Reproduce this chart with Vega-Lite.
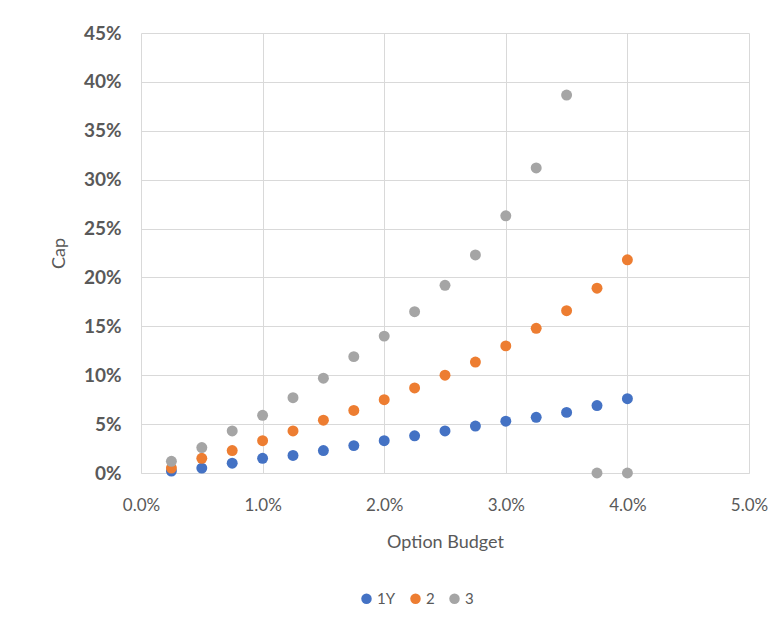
{
  "$schema": "https://vega.github.io/schema/vega-lite/v6.json",
  "width": 608,
  "height": 440,
  "autosize": {"type": "none"},
  "padding": {"left": 141, "top": 33, "right": 34, "bottom": 149},
  "background": "white",
  "config": {
    "font": "Lato",
    "view": {"stroke": null},
    "axis": {"gridColor": "#d9d9d9", "gridWidth": 1, "ticks": false, "domain": false, "labelColor": "#595959", "titleColor": "#595959", "titleFontWeight": "normal", "labelFlush": false}
  },
  "data": {
    "values": [
      {"b": 0.0025, "cap": 0.002, "s": "1Y"},
      {"b": 0.005, "cap": 0.005, "s": "1Y"},
      {"b": 0.0075, "cap": 0.010, "s": "1Y"},
      {"b": 0.01, "cap": 0.015, "s": "1Y"},
      {"b": 0.0125, "cap": 0.018, "s": "1Y"},
      {"b": 0.015, "cap": 0.023, "s": "1Y"},
      {"b": 0.0175, "cap": 0.028, "s": "1Y"},
      {"b": 0.02, "cap": 0.033, "s": "1Y"},
      {"b": 0.0225, "cap": 0.038, "s": "1Y"},
      {"b": 0.025, "cap": 0.043, "s": "1Y"},
      {"b": 0.0275, "cap": 0.048, "s": "1Y"},
      {"b": 0.03, "cap": 0.053, "s": "1Y"},
      {"b": 0.0325, "cap": 0.057, "s": "1Y"},
      {"b": 0.035, "cap": 0.062, "s": "1Y"},
      {"b": 0.0375, "cap": 0.069, "s": "1Y"},
      {"b": 0.04, "cap": 0.076, "s": "1Y"},
      {"b": 0.0025, "cap": 0.005, "s": "2"},
      {"b": 0.005, "cap": 0.015, "s": "2"},
      {"b": 0.0075, "cap": 0.023, "s": "2"},
      {"b": 0.01, "cap": 0.033, "s": "2"},
      {"b": 0.0125, "cap": 0.043, "s": "2"},
      {"b": 0.015, "cap": 0.054, "s": "2"},
      {"b": 0.0175, "cap": 0.064, "s": "2"},
      {"b": 0.02, "cap": 0.075, "s": "2"},
      {"b": 0.0225, "cap": 0.087, "s": "2"},
      {"b": 0.025, "cap": 0.100, "s": "2"},
      {"b": 0.0275, "cap": 0.1135, "s": "2"},
      {"b": 0.03, "cap": 0.130, "s": "2"},
      {"b": 0.0325, "cap": 0.148, "s": "2"},
      {"b": 0.035, "cap": 0.166, "s": "2"},
      {"b": 0.0375, "cap": 0.189, "s": "2"},
      {"b": 0.04, "cap": 0.218, "s": "2"},
      {"b": 0.0025, "cap": 0.012, "s": "3"},
      {"b": 0.005, "cap": 0.026, "s": "3"},
      {"b": 0.0075, "cap": 0.043, "s": "3"},
      {"b": 0.01, "cap": 0.059, "s": "3"},
      {"b": 0.0125, "cap": 0.077, "s": "3"},
      {"b": 0.015, "cap": 0.097, "s": "3"},
      {"b": 0.0175, "cap": 0.119, "s": "3"},
      {"b": 0.02, "cap": 0.140, "s": "3"},
      {"b": 0.0225, "cap": 0.165, "s": "3"},
      {"b": 0.025, "cap": 0.192, "s": "3"},
      {"b": 0.0275, "cap": 0.223, "s": "3"},
      {"b": 0.03, "cap": 0.263, "s": "3"},
      {"b": 0.0325, "cap": 0.312, "s": "3"},
      {"b": 0.035, "cap": 0.3865, "s": "3"},
      {"b": 0.0375, "cap": 0.0, "s": "3"},
      {"b": 0.04, "cap": 0.0, "s": "3"}
    ]
  },
  "mark": {"type": "circle", "size": 120, "opacity": 1},
  "encoding": {
    "x": {
      "field": "b", "type": "quantitative", "title": "Option Budget",
      "scale": {"domain": [0, 0.05], "nice": false},
      "axis": {"format": ".1%", "values": [0, 0.01, 0.02, 0.03, 0.04, 0.05], "labelFontSize": 17, "labelPadding": 24, "titleFontSize": 18, "titlePadding": 20, "domain": true, "domainColor": "#d9d9d9"}
    },
    "y": {
      "field": "cap", "type": "quantitative", "title": "Cap",
      "scale": {"domain": [0, 0.45], "nice": false},
      "axis": {"format": ".0%", "values": [0, 0.05, 0.1, 0.15, 0.2, 0.25, 0.3, 0.35, 0.4, 0.45], "labelFontSize": 19, "labelFontWeight": "bold", "labelPadding": 20, "titleFontSize": 18, "titlePadding": 15}
    },
    "color": {
      "field": "s", "type": "nominal", "title": null,
      "scale": {"domain": ["1Y", "2", "3"], "range": ["#4472C4", "#ED7D31", "#A5A5A5"]},
      "legend": {"orient": "none", "legendX": 218, "legendY": 558, "direction": "horizontal", "labelFontSize": 15, "labelColor": "#595959", "symbolType": "circle", "symbolSize": 110, "symbolOpacity": 1, "columnPadding": 12, "labelOffset": 3}
    }
  }
}
